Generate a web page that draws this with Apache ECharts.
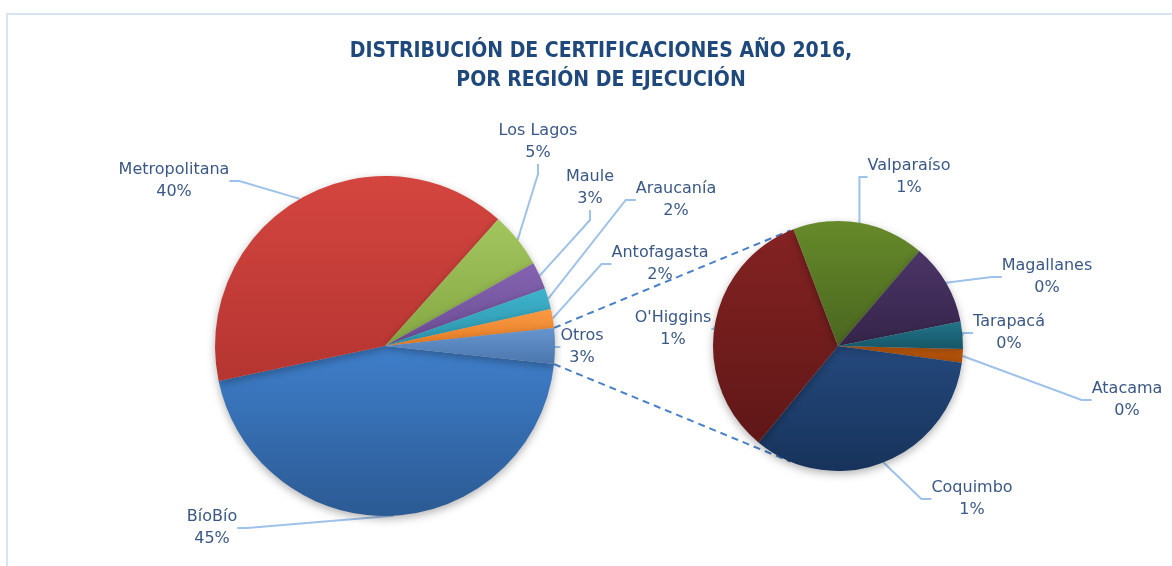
<!DOCTYPE html>
<html>
<head>
<meta charset="UTF-8">
<title>Certificaciones 2016</title>
<script type="text/javascript" src="https://cdn.jsdelivr.net/npm/echarts@6/dist/echarts.min.js"></script>
<style>
  html, body { margin: 0; padding: 0; background: #fff; }
</style>
</head>
<body>
    <div id="main" style="width: 1172px; height: 566px;"></div>
    <script type="text/javascript">
        // regiones del pie principal (porcentaje del total)
        var mainNames = ['BíoBío', 'Metropolitana', 'Los Lagos', 'Maule', 'Araucanía', 'Antofagasta'];
        var mainValues = [45.0, 39.9, 5.3, 2.6, 2.0, 1.8];
        // regiones agrupadas en "Otros" (porcentaje del total)
        var otherNames = ['Atacama', 'Coquimbo', "O'Higgins", 'Valparaíso', 'Magallanes', 'Tarapacá'];
        var otherValues = [0.06, 1.15, 1.13, 0.58, 0.36, 0.12];

        var mainColors = [['#3f7fcb', '#2b5a93'], ['#d4453f', '#b53531'], ['#a3c55e', '#86a843'],
                          ['#8464b0', '#6a4c94'], ['#3fb3cc', '#2c95ad'], ['#fb9a45', '#e57d24'], ['#6795cf', '#4b76ad']];
        var otherColors = [['#d0620f', '#a84b06'], ['#24497d', '#17335b'], ['#842222', '#5f1717'],
                           ['#668a2a', '#4a6620'], ['#4b3566', '#35244a'], ['#237489', '#165668']];

        // etiquetas (centro del bloque de texto)
        var labelPos = {
            'BíoBío': [212, 528], 'Metropolitana': [174, 181], 'Los Lagos': [538, 142],
            'Maule': [590, 188], 'Araucanía': [676, 200], 'Antofagasta': [660, 264], 'Otros': [582, 347],
            'Valparaíso': [909, 177], 'Magallanes': [1047, 277], 'Tarapacá': [1009, 333],
            'Atacama': [1127, 400], 'Coquimbo': [972, 499], "O'Higgins": [673, 329]
        };

        var otrosTotal = 0;
        otherValues.forEach(function (v) { otrosTotal += v; });

        function grad(c) {
            return new echarts.graphic.LinearGradient(0, 0, 0, 1, [
                { offset: 0, color: c[0] }, { offset: 1, color: c[1] }
            ]);
        }

        var mainData = mainNames.map(function (n, i) {
            return { name: n, value: mainValues[i], itemStyle: { color: grad(mainColors[i]) } };
        });
        mainData.push({ name: 'Otros', value: otrosTotal, itemStyle: { color: grad(mainColors[6]) } });

        var otherData = otherNames.map(function (n, i) {
            return { name: n, value: otherValues[i], itemStyle: { color: grad(otherColors[i]) } };
        });

        var labelStyle = {
            show: true,
            position: 'outside',
            formatter: function (p) { return p.name + '\n' + Math.round(p.value) + '%'; },
            color: '#3a5887',
            fontFamily: 'DejaVu Sans',
            fontSize: 16,
            lineHeight: 22,
            align: 'center'
        };
        var lineStyle = { show: true, lineStyle: { color: '#9fc2ea', width: 2 }, length: 10, length2: 10 };

        function layoutFn(params) {
            var pos = labelPos[params.text.split('\n')[0]];
            if (!pos) return {};
            return { x: pos[0], y: pos[1], align: 'center', verticalAlign: 'middle' };
        }

        var chart = echarts.init(document.getElementById('main'));
        var option = {
            animation: false,
            title: {
                text: 'DISTRIBUCIÓN DE CERTIFICACIONES AÑO 2016,\nPOR REGIÓN DE EJECUCIÓN',
                left: 596,
                top: 32,
                textAlign: 'center',
                textStyle: {
                    color: '#1f487c',
                    fontFamily: 'DejaVu Sans Condensed, Liberation Sans',
                    fontWeight: 'bold',
                    fontSize: 21,
                    lineHeight: 29
                }
            },
            series: [{
                type: 'pie',
                center: [385, 346],
                radius: 170,
                startAngle: -otrosTotal * 3.6 / 2,
                clockwise: true,
                data: mainData,
                label: labelStyle,
                labelLine: lineStyle,
                labelLayout: layoutFn,
                itemStyle: { shadowBlur: 8, shadowColor: 'rgba(0,0,0,0.3)', shadowOffsetY: 3 },
                emphasis: { disabled: true }
            }, {
                type: 'pie',
                center: [838, 346],
                radius: 125,
                startAngle: -1.4,
                clockwise: true,
                data: otherData,
                label: labelStyle,
                labelLine: lineStyle,
                labelLayout: layoutFn,
                itemStyle: { shadowBlur: 8, shadowColor: 'rgba(0,0,0,0.3)', shadowOffsetY: 3 },
                emphasis: { disabled: true }
            }]
        };
        chart.setOption(option);

        // líneas de conexión: desde los bordes de "Otros" tangentes al pie secundario
        var mainLayout = chart.getModel().getSeriesByIndex(0).getData().getItemLayout(mainData.length - 1);
        var subLayout = chart.getModel().getSeriesByIndex(1).getData().getItemLayout(0);
        var cx = subLayout.cx, cy = subLayout.cy, r = subLayout.r;

        function edgePoint(angle) {
            return [mainLayout.cx + mainLayout.r * Math.cos(angle), mainLayout.cy + mainLayout.r * Math.sin(angle)];
        }
        function tangent(p, upper) {
            var dx = p[0] - cx, dy = p[1] - cy;
            var d = Math.sqrt(dx * dx + dy * dy);
            var base = Math.atan2(dy, dx);
            var off = Math.acos(r / d);
            var a = upper ? base + off : base - off;
            return [cx + r * Math.cos(a), cy + r * Math.sin(a)];
        }
        var a1 = Math.min(mainLayout.startAngle, mainLayout.endAngle);
        var a2 = Math.max(mainLayout.startAngle, mainLayout.endAngle);
        var pTop = edgePoint(a1), pBot = edgePoint(a2);
        if (pTop[1] > pBot[1]) { var t = pTop; pTop = pBot; pBot = t; }
        var qTop = tangent(pTop, true), qBot = tangent(pBot, false);
        if (qTop[1] > cy) qTop = tangent(pTop, false);
        if (qBot[1] < cy) qBot = tangent(pBot, true);

        var dashStyle = { stroke: '#4a80c8', lineWidth: 2, lineDash: [7, 5] };
        chart.setOption({
            graphic: [{
                type: 'rect', shape: { x: 7, y: 14, width: 1200, height: 600 },
                style: { fill: null, stroke: '#d9e4f2', lineWidth: 2 }, silent: true, z: -10
            }, {
                type: 'line', shape: { x1: pTop[0], y1: pTop[1], x2: qTop[0], y2: qTop[1] },
                style: dashStyle, silent: true, z: 0
            }, {
                type: 'line', shape: { x1: pBot[0], y1: pBot[1], x2: qBot[0], y2: qBot[1] },
                style: dashStyle, silent: true, z: 0
            }]
        });
    </script>
</body>
</html>
